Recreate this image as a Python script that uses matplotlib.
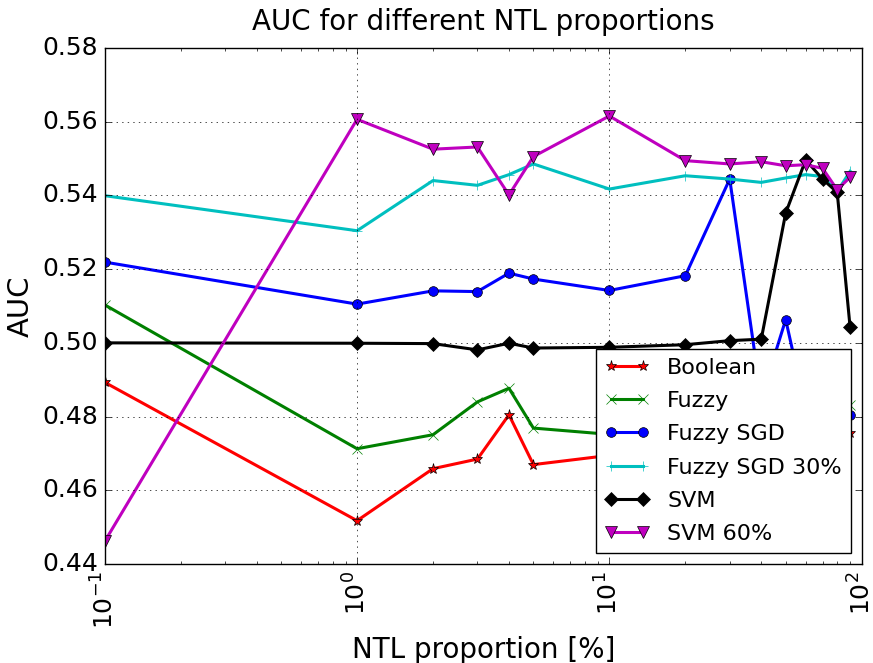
import numpy as np
import matplotlib
matplotlib.use("Agg")
import matplotlib.pyplot as plt

plt.style.use('classic')

# NTL proportion [%]
ntl = [0.1, 1, 2, 3, 4, 5, 10, 20, 30, 40, 50, 60, 70, 80, 90]

auc_boolean = [0.4893, 0.4518, 0.4659, 0.4685, 0.4805, 0.4670, 0.4695, 0.4720,
               0.4700, 0.4730, 0.4740, 0.4750, 0.4760, 0.4740, 0.4756]
auc_fuzzy = [0.5103, 0.4713, 0.4751, 0.4840, 0.4877, 0.4769, 0.4752, 0.4780,
             0.4800, 0.4790, 0.4810, 0.4820, 0.4800, 0.4790, 0.4832]
auc_fuzzy_sgd = [0.5219, 0.5105, 0.5141, 0.5139, 0.5189, 0.5173, 0.5142, 0.5182,
                 0.5444, 0.4850, 0.5063, 0.4820, 0.4780, 0.4790, 0.4805]
auc_fuzzy_sgd30 = [0.5399, 0.5304, 0.5440, 0.5427, 0.5456, 0.5485, 0.5417, 0.5453,
                   0.5444, 0.5435, 0.5447, 0.5456, 0.5451, 0.5410, 0.5465]
auc_svm = [0.5000, 0.4999, 0.4998, 0.4981, 0.4999, 0.4986, 0.4988, 0.4995,
           0.5006, 0.5010, 0.5352, 0.5496, 0.5444, 0.5408, 0.5042]
auc_svm60 = [0.4462, 0.5606, 0.5525, 0.5531, 0.5401, 0.5505, 0.5615, 0.5494,
             0.5485, 0.5491, 0.5480, 0.5483, 0.5473, 0.5415, 0.5449]

fig = plt.figure(figsize=(8.73, 6.63), dpi=100)
ax = fig.add_axes([0.120, 0.149, 0.867, 0.779])

lw = 2.2
ms = 7
ax.plot(ntl, auc_boolean, 'r*-', lw=lw, ms=ms + 1, mec='k', mew=0.5, label='Boolean')
ax.plot(ntl, auc_fuzzy, 'gx-', lw=lw, ms=ms, label='Fuzzy')
ax.plot(ntl, auc_fuzzy_sgd, 'bo-', lw=lw, ms=ms, mec='k', mew=0.5, label='Fuzzy SGD')
ax.plot(ntl, auc_fuzzy_sgd30, 'c+-', lw=lw, ms=ms, label='Fuzzy SGD 30%')
ax.plot(ntl, auc_svm, 'kD-', lw=lw, ms=ms, mec='k', mew=0.5, label='SVM')
ax.plot(ntl, auc_svm60, 'mv-', lw=lw, ms=ms + 1, mec='k', mew=0.5, label='SVM 60%')

ax.set_xscale('log')
ax.set_xlim(0.1, 100)
ax.set_ylim(0.44, 0.58)
ax.grid(True)

ax.set_title('AUC for different NTL proportions', fontsize=20, pad=13)
ax.set_xlabel('NTL proportion [%]', fontsize=20)
ax.set_ylabel('AUC', fontsize=21)
ax.tick_params(labelsize=18, pad=5)
plt.setp(ax.get_xticklabels(), rotation=90)

ax.legend(loc='lower right', fontsize=16, labelspacing=0.6)

fig.savefig('out.png', dpi=100)
